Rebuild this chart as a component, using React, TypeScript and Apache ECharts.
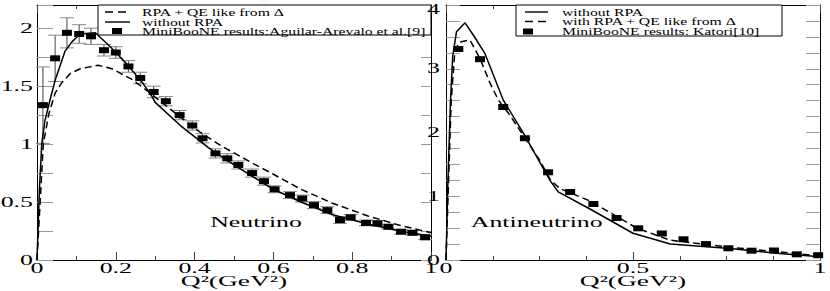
import React, { useEffect, useRef } from "react";
import * as echarts from "echarts";

// ---------- Neutrino panel ----------
const nuQ2 = [0.015, 0.046, 0.076, 0.107, 0.137, 0.17, 0.2, 0.232, 0.262, 0.296, 0.327, 0.362, 0.394, 0.42, 0.453, 0.483, 0.511, 0.546, 0.576, 0.603, 0.642, 0.673, 0.703, 0.737, 0.769, 0.796, 0.835, 0.864, 0.892, 0.924, 0.953, 0.985];
const nuXsec = [1.336, 1.74, 1.96, 1.95, 1.93, 1.81, 1.79, 1.67, 1.57, 1.45, 1.37, 1.25, 1.16, 1.05, 0.92, 0.877, 0.82, 0.75, 0.68, 0.61, 0.56, 0.53, 0.474, 0.43, 0.345, 0.368, 0.32, 0.316, 0.287, 0.244, 0.235, 0.196];
const nuErr = [0.33, 0.2, 0.13, 0.08, 0.07, 0.05, 0.05, 0.05, 0.05, 0.05, 0.04, 0.04, 0.04, 0.04, 0.04, 0.04, 0.035, 0.035, 0.035, 0.03, 0.03, 0.03, 0.03, 0.03, 0.03, 0.025, 0.025, 0.025, 0.02, 0.02, 0.02, 0.02];
const nuWithoutRpa = [[0, 0], [0.006, 0.6], [0.012, 1.0], [0.02, 1.2], [0.033, 1.38], [0.046, 1.55], [0.059, 1.68], [0.071, 1.8], [0.088, 1.88], [0.109, 1.95], [0.148, 1.96], [0.186, 1.84], [0.228, 1.69], [0.27, 1.52], [0.292, 1.41], [0.3, 1.36], [0.364, 1.16], [0.435, 0.97], [0.5, 0.82], [0.6, 0.61], [0.67, 0.5], [0.75, 0.39], [0.84, 0.31], [0.92, 0.25], [1.0, 0.205]];
const nuWithRpa = [[0, 0], [0.008, 0.5], [0.016, 1.0], [0.03, 1.26], [0.046, 1.44], [0.063, 1.53], [0.085, 1.61], [0.11, 1.65], [0.155, 1.68], [0.19, 1.65], [0.24, 1.56], [0.28, 1.46], [0.32, 1.35], [0.365, 1.23], [0.415, 1.1], [0.47, 0.98], [0.55, 0.83], [0.6, 0.74], [0.67, 0.61], [0.75, 0.49], [0.84, 0.38], [0.92, 0.3], [1.0, 0.235]];

// ---------- Antineutrino panel ----------
const anuQ2 = [0.033, 0.091, 0.153, 0.211, 0.273, 0.332, 0.394, 0.456, 0.514, 0.577, 0.635, 0.695, 0.755, 0.817, 0.877, 0.938, 0.995];
const anuXsec = [3.31, 3.15, 2.4, 1.91, 1.376, 1.067, 0.878, 0.659, 0.497, 0.416, 0.325, 0.25, 0.184, 0.146, 0.149, 0.089, 0.075];
const anuWithoutRpa = [[0, 0], [0.005, 1.2], [0.012, 2.5], [0.018, 3.2], [0.028, 3.58], [0.051, 3.72], [0.075, 3.51], [0.104, 3.24], [0.153, 2.51], [0.207, 1.99], [0.278, 1.25], [0.3, 1.07], [0.385, 0.8], [0.5, 0.42], [0.6, 0.25], [0.76, 0.18], [0.884, 0.105], [1.0, 0.05]];
const anuWithRpa = [[0, 0], [0.006, 1.1], [0.014, 2.5], [0.024, 3.3], [0.037, 3.42], [0.064, 3.45], [0.091, 3.16], [0.118, 2.77], [0.14, 2.51], [0.171, 2.27], [0.207, 1.95], [0.25, 1.57], [0.28, 1.25], [0.305, 1.12], [0.385, 0.925], [0.51, 0.5], [0.6, 0.31], [0.76, 0.2], [0.884, 0.13], [1.0, 0.063]];

// ---------- Tick labels & texts ----------
const nuXTicks = [0, 0.2, 0.4, 0.6, 0.8, 1];
const nuXTickLabels = ["0", "0.2", "0.4", "0.6", "0.8", "1"];
const nuYTicks = [0, 0.5, 1, 1.5, 2];
const nuYTickLabels = ["0", "0.5", "1", "1.5", "2"];
const anuXTicks = [0, 0.5, 1];
const anuXTickLabels = ["0", "0.5", "1"];
const anuYTicks = [0, 1, 2, 3, 4];
const anuYTickLabels = ["0", "1", "2", "3", "4"];
const nuLegend = ["RPA + QE like from Δ", "without RPA", "MiniBooNE results:Aguilar-Arevalo et al.[9]"];
const anuLegend = ["without RPA", "with RPA + QE like from Δ", "MiniBooNE results: Katori[10]"];
const axisTitle = "Q²(GeV²)";
const panelNames = ["Neutrino", "Antineutrino"];
const panelNamePos = [[0.556, 0.33], [0.2425, 0.59]];

const SERIF = '"Liberation Serif", "Times New Roman", serif';

function xAx(grid: number, pos: string, interval: number, split: number) {
  return {
    type: "value", gridIndex: grid, position: pos, min: 0, max: 1, interval,
    axisLine: { show: true, onZero: false, lineStyle: { color: "#000", width: 1 } },
    axisTick: { show: true, inside: true, length: 8, lineStyle: { color: "#444" } },
    minorTick: { show: true, splitNumber: split, length: 4, lineStyle: { color: "#444" } },
    axisLabel: { show: false }, splitLine: { show: false }, minorSplitLine: { show: false },
  };
}
function yAx(grid: number, pos: string, max: number, len: number) {
  return {
    type: "value", gridIndex: grid, position: pos, min: 0, max, interval: 0.25,
    axisLine: { show: true, onZero: false, lineStyle: { color: "#000", width: 1 } },
    axisTick: { show: true, inside: true, length: len, lineStyle: { color: "#999" } },
    axisLabel: { show: false }, splitLine: { show: false },
  };
}

function txt(x: number, y: number, text: string, size: number, sx: number, align: string, valign = "middle") {
  return {
    type: "text", x, y, scaleX: sx, silent: true, z: 100,
    style: { text, font: `${size}px ${SERIF}`, fill: "#000", textAlign: align, textVerticalAlign: valign, align, verticalAlign: valign },
  };
}

function legendBlock(x: number, y: number, w: number, h: number, names: string[], kinds: string[], rows: number[], sampleX: number[], markerX: number, textX: number) {
  const els: any[] = [
    { type: "rect", shape: { x, y, width: w, height: h }, style: { fill: "#fff", stroke: "#000", lineWidth: 1 }, z: 90 },
  ];
  names.forEach((n, i) => {
    const ry = rows[i];
    if (kinds[i] === "marker") {
      els.push({ type: "rect", shape: { x: markerX - 5, y: ry - 3, width: 10, height: 6 }, style: { fill: "#000" }, z: 95 });
    } else {
      els.push({
        type: "line", shape: { x1: sampleX[0], y1: ry, x2: sampleX[1], y2: ry },
        style: { stroke: "#000", lineWidth: 1.4, lineDash: kinds[i] === "dash" ? [8, 5] : null }, z: 95,
      });
    }
    els.push(txt(textX, ry, n, 11, 1.43, "left"));
  });
  return els;
}

export default function App() {
  const ref = useRef<HTMLDivElement>(null);
  useEffect(() => {
    if (!ref.current) return;
    const chart = echarts.init(ref.current, null, { renderer: "svg" });
    const solid = { color: "#000", width: 1.5, type: "solid" as const };
    const dashed = { color: "#000", width: 1.5, type: [7, 4] as any };
    const errorBars = (q: number[], v: number[], e: number[], xi: number, yi: number) => ({
      type: "custom", xAxisIndex: xi, yAxisIndex: yi, z: 3, silent: true,
      encode: { x: 0, y: [1, 2] },
      data: q.map((x, i) => [x, v[i] - e[i], v[i] + e[i]]),
      renderItem: (_p: any, api: any) => {
        const lo = api.coord([api.value(0), api.value(1)]);
        const hi = api.coord([api.value(0), api.value(2)]);
        const w = 7;
        return {
          type: "group",
          children: [
            { type: "line", shape: { x1: lo[0], y1: lo[1], x2: hi[0], y2: hi[1] }, style: { stroke: "#444", lineWidth: 1 } },
            { type: "line", shape: { x1: lo[0] - w, y1: lo[1], x2: lo[0] + w, y2: lo[1] }, style: { stroke: "#888", lineWidth: 1 } },
            { type: "line", shape: { x1: hi[0] - w, y1: hi[1], x2: hi[0] + w, y2: hi[1] }, style: { stroke: "#888", lineWidth: 1 } },
          ],
        };
      },
    });
    const markerStyle = { color: "#000", opacity: 1 };
    chart.setOption({
      animation: false,
      backgroundColor: "#fff",
      grid: [
        { left: 37, top: 5, width: 394, height: 255 },
        { left: 446, top: 5, width: 374, height: 255 },
      ],
      xAxis: [xAx(0, "bottom", 0.2, 2), xAx(0, "top", 0.2, 2), xAx(1, "bottom", 0.5, 4), xAx(1, "top", 0.5, 4)],
      yAxis: [yAx(0, "left", 2.2, 16), yAx(0, "right", 2.2, 10), yAx(1, "left", 4, 14), yAx(1, "right", 4, 14)],
      series: [
        { type: "line", name: nuLegend[1], xAxisIndex: 0, yAxisIndex: 0, data: nuWithoutRpa, showSymbol: false, lineStyle: solid, z: 4 },
        { type: "line", name: nuLegend[0], xAxisIndex: 0, yAxisIndex: 0, data: nuWithRpa, showSymbol: false, lineStyle: dashed, z: 4 },
        errorBars(nuQ2, nuXsec, nuErr, 0, 0),
        { type: "scatter", name: nuLegend[2], xAxisIndex: 0, yAxisIndex: 0, data: nuQ2.map((q, i) => [q, nuXsec[i]]), symbol: "rect", symbolSize: [10, 6], itemStyle: markerStyle, z: 5 },
        { type: "line", name: anuLegend[0], xAxisIndex: 2, yAxisIndex: 2, data: anuWithoutRpa, showSymbol: false, lineStyle: solid, z: 4 },
        { type: "line", name: anuLegend[1], xAxisIndex: 2, yAxisIndex: 2, data: anuWithRpa, showSymbol: false, lineStyle: dashed, z: 4 },
        { type: "scatter", name: anuLegend[2], xAxisIndex: 2, yAxisIndex: 2, data: anuQ2.map((q, i) => [q, anuXsec[i]]), symbol: "rect", symbolSize: [10, 6], itemStyle: markerStyle, z: 5 },
      ],
    });

    const toPx = (panel: number, v: number[]) =>
      chart.convertToPixel({ xAxisIndex: panel * 2, yAxisIndex: panel * 2 } as any, v) as number[];

    const els: any[] = [];
    const TS = 14, TSX = 1.85;
    nuXTicks.forEach((v, i) => { const p = toPx(0, [v, 0]); els.push(txt(p[0], p[1] + 8, nuXTickLabels[i], TS, TSX, "center")); });
    nuYTicks.forEach((v, i) => { const p = toPx(0, [0, v]); els.push(txt(p[0] - 4, p[1], nuYTickLabels[i], TS, TSX, "right")); });
    anuXTicks.forEach((v, i) => { const p = toPx(1, [v, 0]); els.push(txt(p[0], p[1] + 8, anuXTickLabels[i], TS, TSX, "center")); });
    anuYTicks.forEach((v, i) => { const p = toPx(1, [0, v]); els.push(txt(p[0] - 6, Math.max(p[1], 9), anuYTickLabels[i], TS, TSX, "right")); });
    [0, 1].forEach((panel) => {
      const a = toPx(panel, [0, 0]);
      const b = toPx(panel, [1, 0]);
      els.push(txt((a[0] + b[0]) / 2, a[1] + 21, axisTitle, 15, 1.83, "center"));
      const n = toPx(panel, panelNamePos[panel]);
      els.push(txt(n[0], n[1], panelNames[panel], 15, 1.72, "center"));
    });
    els.push(...legendBlock(98, 5, 333, 30, nuLegend, ["dash", "solid", "marker"], [12, 22, 31], [105, 130], 117, 142));
    els.push(...legendBlock(516, 5, 266, 31, anuLegend, ["solid", "dash", "marker"], [12, 21.5, 31.5], [525, 548], 528, 562));
    chart.setOption({ graphic: els });

    return () => chart.dispose();
  }, []);
  return <div ref={ref} style={{ position: "fixed", left: 0, top: 0, width: 830, height: 291, background: "#fff" }} />;
}
